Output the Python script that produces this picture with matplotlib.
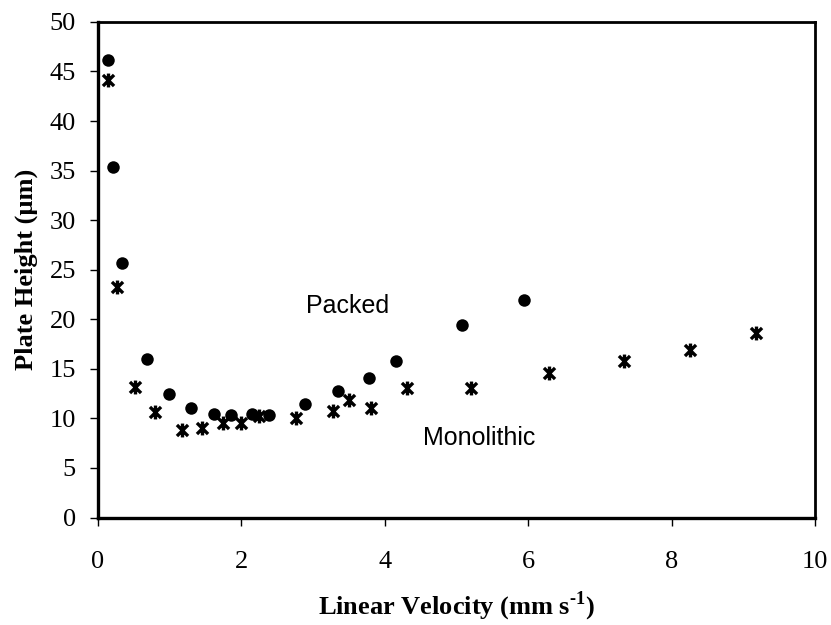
import numpy as np
import matplotlib.pyplot as plt
from matplotlib.path import Path
from matplotlib.markers import MarkerStyle

# Plate height vs linear velocity (van Deemter curves)
packed_u = [0.14, 0.21, 0.34, 0.68, 0.99, 1.30, 1.61, 1.86, 2.15, 2.38,
            2.88, 3.34, 3.78, 4.16, 5.07, 5.94]
packed_h = [46.2, 35.4, 25.7, 16.0, 12.5, 11.0, 10.4, 10.3, 10.4, 10.3,
            11.4, 12.8, 14.1, 15.8, 19.4, 21.9]

mono_u = [0.14, 0.27, 0.52, 0.80, 1.17, 1.45, 1.74, 1.99, 2.24, 2.76,
          3.27, 3.50, 3.80, 4.31, 5.20, 6.29, 7.33, 8.26, 9.17]
mono_h = [44.1, 23.3, 13.2, 10.6, 8.8, 9.0, 9.5, 9.5, 10.2, 10.0,
          10.7, 11.9, 11.0, 13.1, 13.1, 14.6, 15.8, 16.9, 18.6]

x_ticks = [0, 2, 4, 6, 8, 10]
y_ticks = [0, 5, 10, 15, 20, 25, 30, 35, 40, 45, 50]

# asterisk: an X with a vertical bar through it
star = Path([(-0.8, -0.8), (0.8, 0.8), (-0.8, 0.8), (0.8, -0.8), (0, -1), (0, 1)],
            [Path.MOVETO, Path.LINETO, Path.MOVETO, Path.LINETO, Path.MOVETO, Path.LINETO])

plt.rcParams['font.family'] = ['Liberation Serif', 'DejaVu Serif']
plt.rcParams['mathtext.fontset'] = 'custom'
plt.rcParams['mathtext.rm'] = 'Liberation Serif:bold'

fig = plt.figure(figsize=(8.31, 6.25), dpi=100)
ax = fig.add_axes([0.118, 0.172, 0.863, 0.793])

ax.plot(packed_u, packed_h, linestyle='none', marker='o', markersize=9,
        color='black', markeredgewidth=0)
ax.plot(mono_u, mono_h, linestyle='none', marker=MarkerStyle(star), markersize=10,
        color='black', markeredgewidth=2.4, fillstyle='none')

ax.set_xlim(0, 10)
ax.set_ylim(0, 50)
ax.set_xticks(x_ticks)
ax.set_yticks(y_ticks)
ax.tick_params(direction='out', length=6, width=1, labelsize=19)
ax.tick_params(axis='x', pad=18)
ax.tick_params(axis='y', pad=10)

for side in ['left', 'bottom']:
    ax.spines[side].set_linewidth(2.4)
for side in ['top', 'right']:
    ax.spines[side].set_linewidth(2.0)

ax.set_xlabel('Linear Velocity (mm s$^{\\text{-1}}$)', fontsize=19,
              fontweight='bold', labelpad=12)
ax.set_ylabel('Plate Height (\u00b5m)', fontsize=19, fontweight='bold', labelpad=8)

ax.text(3.48, 21.3, 'Packed', family='Liberation Sans', fontsize=18,
        ha='center', va='center')
ax.text(4.53, 8.0, 'Monolithic', family='Liberation Sans', fontsize=18,
        ha='left', va='center')

fig.savefig('out.png', dpi=100)
